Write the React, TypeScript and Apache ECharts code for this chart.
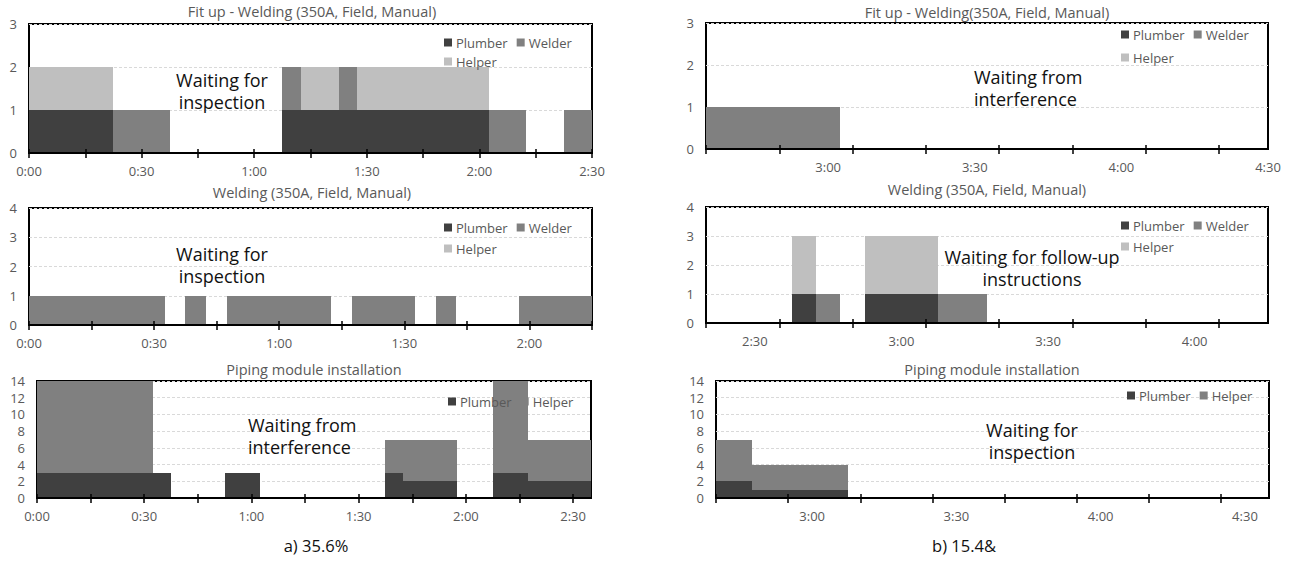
import React, { useEffect, useRef } from 'react';
import * as echarts from 'echarts';

// ---------------- data (minutes from 0:00) ----------------
// a) left column
const A1_TIMES = [0, 22.5, 37.5, 67.5, 72.5, 82.5, 87.5, 122.5, 132.5, 142.5, 150];
const A1_PLUMBER = [1, 0, 0, 1, 1, 1, 1, 0, 0, 0];
const A1_WELDER = [0, 1, 0, 1, 0, 1, 0, 1, 0, 1];
const A1_HELPER = [1, 0, 0, 0, 1, 0, 1, 0, 0, 0];
const A1_RANGE = ['0:00', '2:30'];
const A1_TICK_LABELS = ['0:00', '0:30', '1:00', '1:30', '2:00', '2:30'];

const A2_TIMES = [0, 32.5, 37.5, 42.5, 47.5, 72.5, 77.5, 92.5, 97.5, 102.5, 117.5, 135];
const A2_PLUMBER = [0, 0, 0, 0, 0, 0, 0, 0, 0, 0, 0];
const A2_WELDER = [1, 0, 1, 0, 1, 0, 1, 0, 1, 0, 1];
const A2_HELPER = [0, 0, 0, 0, 0, 0, 0, 0, 0, 0, 0];
const A2_RANGE = ['0:00', '2:15'];
const A2_TICK_LABELS = ['0:00', '0:30', '1:00', '1:30', '2:00'];

const A3_TIMES = [0, 32.5, 37.5, 52.5, 62.5, 97.5, 102.5, 117.5, 127.5, 137.5, 155];
const A3_PLUMBER = [3, 3, 0, 3, 0, 3, 2, 0, 3, 2];
const A3_HELPER = [11, 0, 0, 0, 0, 4, 5, 0, 11, 5];
const A3_RANGE = ['0:00', '2:35'];
const A3_TICK_LABELS = ['0:00', '0:30', '1:00', '1:30', '2:00', '2:30'];

// b) right column
const B1_TIMES = [155, 182.5, 270];
const B1_PLUMBER = [0, 0];
const B1_WELDER = [1, 0];
const B1_HELPER = [0, 0];
const B1_RANGE = ['2:35', '4:30'];
const B1_TICK_LABELS = ['3:00', '3:30', '4:00', '4:30'];

const B2_TIMES = [140, 157.5, 162.5, 167.5, 172.5, 187.5, 197.5, 255];
const B2_PLUMBER = [0, 1, 0, 0, 1, 0, 0];
const B2_WELDER = [0, 0, 1, 0, 0, 1, 0];
const B2_HELPER = [0, 2, 0, 0, 2, 0, 0];
const B2_RANGE = ['2:20', '4:15'];
const B2_TICK_LABELS = ['2:30', '3:00', '3:30', '4:00'];

const B3_TIMES = [160, 167.5, 187.5, 275];
const B3_PLUMBER = [2, 1, 0];
const B3_HELPER = [5, 3, 0];
const B3_RANGE = ['2:40', '4:35'];
const B3_TICK_LABELS = ['3:00', '3:30', '4:00', '4:30'];

const TITLES = [
  'Fit up - Welding (350A, Field, Manual)',
  'Welding (350A, Field, Manual)',
  'Piping module installation',
  'Fit up - Welding(350A, Field, Manual)',
  'Welding (350A, Field, Manual)',
  'Piping module installation',
];
const NOTES = [
  'Waiting for\ninspection',
  'Waiting for\ninspection',
  'Waiting from\ninterference',
  'Waiting from\ninterference',
  'Waiting for follow-up\ninstructions',
  'Waiting for\ninspection',
];
const CAPTIONS = ['a) 35.6%', 'b) 15.4&'];

// ---------------- styles ----------------
const DARK = '#404040';
const MID = '#808080';
const LIGHT = '#bfbfbf';
const GRAY_TEXT = '#595959';
const FONT = "'Open Sans', 'Noto Sans', sans-serif";

const hm = (s: string) => {
  const [h, m] = s.split(':').map(Number);
  return h * 60 + m;
};
const fmt = (v: number) => {
  const r = Math.round(v);
  return `${Math.floor(r / 60)}:${String(r % 60).padStart(2, '0')}`;
};

type Role = { name: string; values: number[]; color: string };
type Panel = {
  grid: { left: number; top: number; width: number; height: number };
  range: string[];
  labels: string[];
  times: number[];
  roles: Role[];
  yMax: number;
  yStep: number;
  title: string;
  titleX: number;
  titleY: number;
  legendRows: { items: { name: string; color: string }[]; left: number; top: number }[];
  note: string;
  noteX: number;
  noteY: number;
  noteAlign: 'left' | 'center';
};

const PANELS: Panel[] = [
  {
    grid: { left: 29, top: 24, width: 563, height: 129 },
    range: A1_RANGE, labels: A1_TICK_LABELS, times: A1_TIMES,
    roles: [
      { name: 'Plumber', values: A1_PLUMBER, color: DARK },
      { name: 'Welder', values: A1_WELDER, color: MID },
      { name: 'Helper', values: A1_HELPER, color: LIGHT },
    ],
    yMax: 3, yStep: 1, title: TITLES[0], titleX: 312, titleY: 14,
    legendRows: [
      { items: [{ name: 'Plumber', color: DARK }, { name: 'Welder', color: MID }], left: 444, top: 36 },
      { items: [{ name: 'Helper', color: LIGHT }], left: 444, top: 55 },
    ],
    note: NOTES[0], noteX: 222, noteY: 90.5, noteAlign: 'center',
  },
  {
    grid: { left: 29, top: 208, width: 563, height: 117 },
    range: A2_RANGE, labels: A2_TICK_LABELS, times: A2_TIMES,
    roles: [
      { name: 'Plumber', values: A2_PLUMBER, color: DARK },
      { name: 'Welder', values: A2_WELDER, color: MID },
      { name: 'Helper', values: A2_HELPER, color: LIGHT },
    ],
    yMax: 4, yStep: 1, title: TITLES[1], titleX: 312, titleY: 195,
    legendRows: [
      { items: [{ name: 'Plumber', color: DARK }, { name: 'Welder', color: MID }], left: 444, top: 221 },
      { items: [{ name: 'Helper', color: LIGHT }], left: 444, top: 242 },
    ],
    note: NOTES[1], noteX: 222, noteY: 265, noteAlign: 'center',
  },
  {
    grid: { left: 37, top: 381, width: 554, height: 117 },
    range: A3_RANGE, labels: A3_TICK_LABELS, times: A3_TIMES,
    roles: [
      { name: 'Plumber', values: A3_PLUMBER, color: DARK },
      { name: 'Helper', values: A3_HELPER, color: MID },
    ],
    yMax: 14, yStep: 2, title: TITLES[2], titleX: 314, titleY: 372,
    legendRows: [
      { items: [{ name: 'Plumber', color: DARK }, { name: 'Helper', color: MID }], left: 448, top: 395 },
    ],
    note: NOTES[2], noteX: 248, noteY: 436, noteAlign: 'left',
  },
  {
    grid: { left: 706, top: 23, width: 562, height: 126 },
    range: B1_RANGE, labels: B1_TICK_LABELS, times: B1_TIMES,
    roles: [
      { name: 'Plumber', values: B1_PLUMBER, color: DARK },
      { name: 'Welder', values: B1_WELDER, color: MID },
      { name: 'Helper', values: B1_HELPER, color: LIGHT },
    ],
    yMax: 3, yStep: 1, title: TITLES[3], titleX: 987, titleY: 15,
    legendRows: [
      { items: [{ name: 'Plumber', color: DARK }, { name: 'Welder', color: MID }], left: 1121, top: 28 },
      { items: [{ name: 'Helper', color: LIGHT }], left: 1121, top: 51 },
    ],
    note: NOTES[3], noteX: 974, noteY: 87.5, noteAlign: 'left',
  },
  {
    grid: { left: 706, top: 207, width: 562, height: 116 },
    range: B2_RANGE, labels: B2_TICK_LABELS, times: B2_TIMES,
    roles: [
      { name: 'Plumber', values: B2_PLUMBER, color: DARK },
      { name: 'Welder', values: B2_WELDER, color: MID },
      { name: 'Helper', values: B2_HELPER, color: LIGHT },
    ],
    yMax: 4, yStep: 1, title: TITLES[4], titleX: 987, titleY: 192,
    legendRows: [
      { items: [{ name: 'Plumber', color: DARK }, { name: 'Welder', color: MID }], left: 1121, top: 219 },
      { items: [{ name: 'Helper', color: LIGHT }], left: 1121, top: 240 },
    ],
    note: NOTES[4], noteX: 1032, noteY: 267.5, noteAlign: 'center',
  },
  {
    grid: { left: 716, top: 381, width: 553, height: 117 },
    range: B3_RANGE, labels: B3_TICK_LABELS, times: B3_TIMES,
    roles: [
      { name: 'Plumber', values: B3_PLUMBER, color: DARK },
      { name: 'Helper', values: B3_HELPER, color: MID },
    ],
    yMax: 14, yStep: 2, title: TITLES[5], titleX: 992, titleY: 372,
    legendRows: [
      { items: [{ name: 'Plumber', color: DARK }, { name: 'Helper', color: MID }], left: 1127, top: 389 },
    ],
    note: NOTES[5], noteX: 1032, noteY: 441, noteAlign: 'center',
  },
];

function buildOption() {
  const grid: any[] = [];
  const xAxis: any[] = [];
  const xAxisInner: any[] = [];
  const yAxis: any[] = [];
  const series: any[] = [];
  const legend: any[] = [];
  const title: any[] = [];
  const graphic: any[] = [];

  PANELS.forEach((p, i) => {
    grid.push({
      ...p.grid,
      show: true,
      borderColor: '#000',
      borderWidth: 2,
      backgroundColor: 'transparent',
      containLabel: false,
    });
    const xMin = hm(p.range[0]);
    const xMax = hm(p.range[1]);
    const ticks: number[] = [];
    for (let t = xMin; t <= xMax + 0.001; t += 15) ticks.push(t);
    xAxis.push({
      type: 'value',
      gridIndex: i,
      min: xMin,
      max: xMax,
      z: 3,
      axisLine: { show: true, onZero: false, lineStyle: { color: '#000', width: 2 } },
      axisTick: { show: true, customValues: ticks, length: 5, lineStyle: { color: '#000', width: 1.5 } },
      axisLabel: {
        customValues: p.labels.map(hm),
        formatter: (v: number) => fmt(v),
        color: GRAY_TEXT,
        fontSize: 13,
        fontFamily: FONT,
        margin: 11,
      },
      splitLine: { show: false },
    });
    // companion axis drawing the upper half of the crossing tick marks
    xAxisInner.push({
      type: 'value',
      gridIndex: i,
      min: xMin,
      max: xMax,
      z: 3,
      position: 'bottom',
      axisLine: { show: false, onZero: false },
      axisTick: { show: true, inside: true, customValues: ticks, length: 4, lineStyle: { color: '#000', width: 1.5 } },
      axisLabel: { show: false },
      splitLine: { show: false },
    });
    yAxis.push({
      type: 'value',
      gridIndex: i,
      min: 0,
      max: p.yMax,
      interval: p.yStep,
      axisLine: { show: false },
      axisTick: { show: false },
      axisLabel: { color: GRAY_TEXT, fontSize: 13, fontFamily: FONT, margin: 12 },
      splitLine: { show: true, lineStyle: { color: '#d9d9d9', type: [3, 2], width: 1 } },
    });

    // stacked rectangles per role
    const base = p.times.slice(0, -1).map(() => 0);
    p.roles.forEach((r) => {
      const data: number[][] = [];
      r.values.forEach((v, k) => {
        if (v > 0) data.push([p.times[k], p.times[k + 1], base[k], base[k] + v]);
        base[k] += v;
      });
      series.push({
        type: 'custom',
        name: r.name,
        xAxisIndex: i,
        yAxisIndex: i,
        itemStyle: { color: r.color },
        encode: { x: [0, 1], y: [2, 3] },
        data,
        renderItem: (_params: any, api: any) => {
          const a = api.coord([api.value(0), api.value(2)]);
          const b = api.coord([api.value(1), api.value(3)]);
          const x0 = Math.round(a[0]);
          const x1 = Math.round(b[0]);
          const y0 = Math.round(a[1]);
          const y1 = Math.round(b[1]);
          return {
            type: 'rect',
            shape: { x: x0, y: y1, width: x1 - x0, height: y0 - y1 },
            style: { fill: r.color },
          };
        },
      });
    });

    p.legendRows.forEach((row) => {
      legend.push({
        left: row.left,
        top: row.top,
        orient: 'horizontal',
        padding: 0,
        itemGap: 9,
        itemWidth: 8,
        itemHeight: 8,
        icon: 'rect',
        selectedMode: false,
        textStyle: { color: GRAY_TEXT, fontSize: 13, fontFamily: FONT, padding: [0, 0, 0, -1] },
        data: row.items.map((it) => ({ name: it.name, itemStyle: { color: it.color } })),
      });
    });

    title.push({
      text: p.title,
      left: p.titleX,
      top: p.titleY - 10,
      textAlign: 'center',
      padding: 0,
      textStyle: { color: GRAY_TEXT, fontSize: 14.5, fontWeight: 'normal', fontFamily: FONT },
    });

    graphic.push({
      type: 'text',
      x: p.noteX,
      y: p.noteY,
      z: 10,
      style: {
        text: p.note,
        fill: '#111',
        font: `18px ${FONT}`,
        lineHeight: 22,
        align: p.noteAlign,
        verticalAlign: 'middle',
      },
    });
  });

  graphic.push({
    type: 'text',
    x: 316,
    y: 545,
    style: { text: CAPTIONS[0], fill: '#111', font: `16.5px ${FONT}`, align: 'center', verticalAlign: 'middle' },
  });
  graphic.push({
    type: 'text',
    x: 964,
    y: 545,
    style: { text: CAPTIONS[1], fill: '#111', font: `16.5px ${FONT}`, align: 'center', verticalAlign: 'middle' },
  });

  return {
    animation: false,
    backgroundColor: '#fff',
    textStyle: { fontFamily: FONT },
    grid,
    xAxis: [...xAxis, ...xAxisInner],
    yAxis,
    series,
    legend,
    title,
    graphic,
  };
}

export default function App() {
  const ref = useRef<HTMLDivElement>(null);
  useEffect(() => {
    if (!ref.current) return;
    const chart = echarts.init(ref.current, undefined, { renderer: 'svg' });
    chart.setOption(buildOption() as any);
    return () => chart.dispose();
  }, []);
  return (
    <div
      ref={ref}
      style={{ position: 'absolute', left: 0, top: 0, width: 1293, height: 561, background: '#fff' }}
    />
  );
}
